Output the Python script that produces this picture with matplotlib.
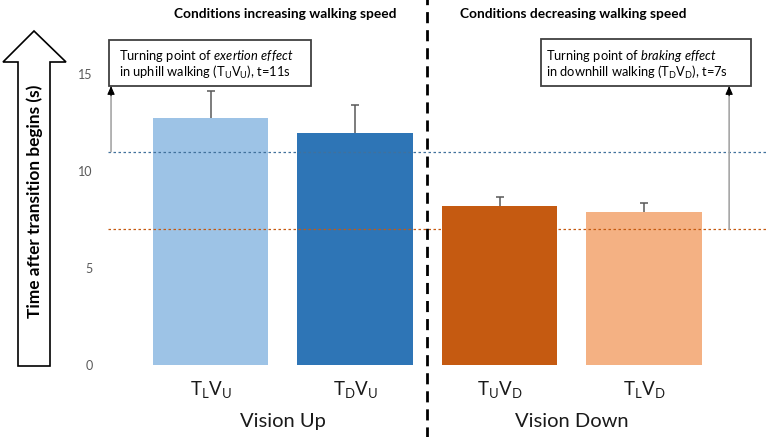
import matplotlib
matplotlib.use("Agg")
import matplotlib.pyplot as plt
from matplotlib.patches import Polygon, Rectangle

plt.rcParams['font.family'] = ['Lato', 'DejaVu Sans']
plt.rcParams['mathtext.fontset'] = 'custom'
plt.rcParams['mathtext.rm'] = 'Lato'
plt.rcParams['mathtext.it'] = 'Lato:italic'
plt.rcParams['mathtext.bf'] = 'Lato:bold'

# data
conditions = [r'$\mathrm{T_LV_U}$', r'$\mathrm{T_DV_U}$', r'$\mathrm{T_UV_D}$', r'$\mathrm{T_LV_D}$']
means = [12.75, 11.94, 8.21, 7.87]
err_up = [1.37, 1.48, 0.43, 0.50]
colors = ['#9DC3E6', '#2E75B6', '#C55A11', '#F4B183']
groups = ['Vision Up', 'Vision Down']
group_titles = ['Conditions increasing walking speed', 'Conditions decreasing walking speed']
exertion_t = 11
braking_t = 7

W, H = 770, 437
fig = plt.figure(figsize=(W / 100, H / 100), dpi=100)


def fx(x):
    return x / W


def fy(y):
    return 1 - y / H


ax = fig.add_axes([fx(108), fy(365), (767 - 108) / W, 329.8 / H])
pos = list(range(len(means)))
ax.bar(pos, means, width=0.8, color=colors)
# upper error bars only, no cap at the bar top
tops = [m + e for m, e in zip(means, err_up)]
ax.vlines(pos, means, tops, color='#595959', lw=1.1)
ax.plot(pos, tops, ls='none', marker='_', ms=6, mew=1.1, color='#595959')

ax.set_xlim(-0.71, 3.85)
ax.set_ylim(0, 17)
ax.set_yticks([0, 5, 10, 15])
ax.tick_params(axis='y', length=0, pad=11, labelsize=9, labelcolor='#595959')
ax.set_xticks(pos, conditions)
ax.tick_params(axis='x', length=0, pad=10, labelsize=13.5, labelcolor='#1a1a1a')
for s in ax.spines.values():
    s.set_visible(False)

# turning point reference lines
ax.axhline(exertion_t, color='#41719C', lw=0.9, ls=(0, (2, 2)))
ax.axhline(braking_t, color='#C55A11', lw=0.9, ls=(0, (2, 2)))

# separator between the two vision conditions
ax.axvline(1.5, ymin=-0.22, ymax=1.11, clip_on=False, color='black', lw=2, ls=(0, (4, 2.5)))

# arrows from the lines up to the boxes
box_bottom = (365 - 86) / 19.4
for xa, yv in [(-0.689, exertion_t), (3.588, braking_t)]:
    ax.annotate('', xy=(xa, box_bottom), xytext=(xa, yv), annotation_clip=False,
                arrowprops=dict(arrowstyle='-', color='#A6A6A6', lw=1.2, shrinkA=0, shrinkB=0))
    ax.annotate('', xy=(xa, box_bottom), xytext=(xa, box_bottom - 0.5), annotation_clip=False,
                arrowprops=dict(arrowstyle='-|>,head_length=0.5,head_width=0.22', color='black',
                                lw=0.8, shrinkA=0, shrinkB=0))

# text boxes
for (x0, x1, y0, y1) in [(109, 311, 40, 86), (541, 751, 39, 86)]:
    fig.add_artist(Rectangle((fx(x0), fy(y1)), (x1 - x0) / W, (y1 - y0) / H,
                             transform=fig.transFigure, fill=True, facecolor='white',
                             edgecolor='#404040', lw=1.3))
fig.text(fx(119), fy(60), r'Turning point of $\mathit{exertion\ effect}$', fontsize=9.3, va='baseline')
fig.text(fx(119), fy(77), r'in uphill walking ($\mathrm{T_UV_U}$), t=11s', fontsize=9.3, va='baseline')
fig.text(fx(546), fy(60), r'Turning point of $\mathit{braking\ effect}$', fontsize=9.3, va='baseline')
fig.text(fx(546), fy(77), r'in downhill walking ($\mathrm{T_DV_D}$), t=7s', fontsize=9.3, va='baseline')

# titles and group labels
fig.text(fx(285), fy(18.5), group_titles[0], fontsize=9.9, fontweight='bold', ha='center', va='baseline')
fig.text(fx(573.5), fy(18.5), group_titles[1], fontsize=9.9, fontweight='bold', ha='center', va='baseline')
fig.text(fx(282.5), fy(427), groups[0], fontsize=14.5, ha='center', va='baseline', color='#1a1a1a')
fig.text(fx(572), fy(427), groups[1], fontsize=14.5, ha='center', va='baseline', color='#1a1a1a')

# y label inside a big up arrow
arrow_pts = [(18, 366), (50, 366), (50, 62), (66, 62), (34, 31), (3, 62), (18, 62)]
fig.add_artist(Polygon([(fx(x), fy(y)) for x, y in arrow_pts], closed=True,
                       transform=fig.transFigure, facecolor='white', edgecolor='black', lw=1.2))
fig.text(fx(35), fy(201.5), 'Time after transition begins (s)', rotation=90, fontsize=12.4,
         fontweight='bold', ha='center', va='center')

fig.savefig('out.png', dpi=100)
